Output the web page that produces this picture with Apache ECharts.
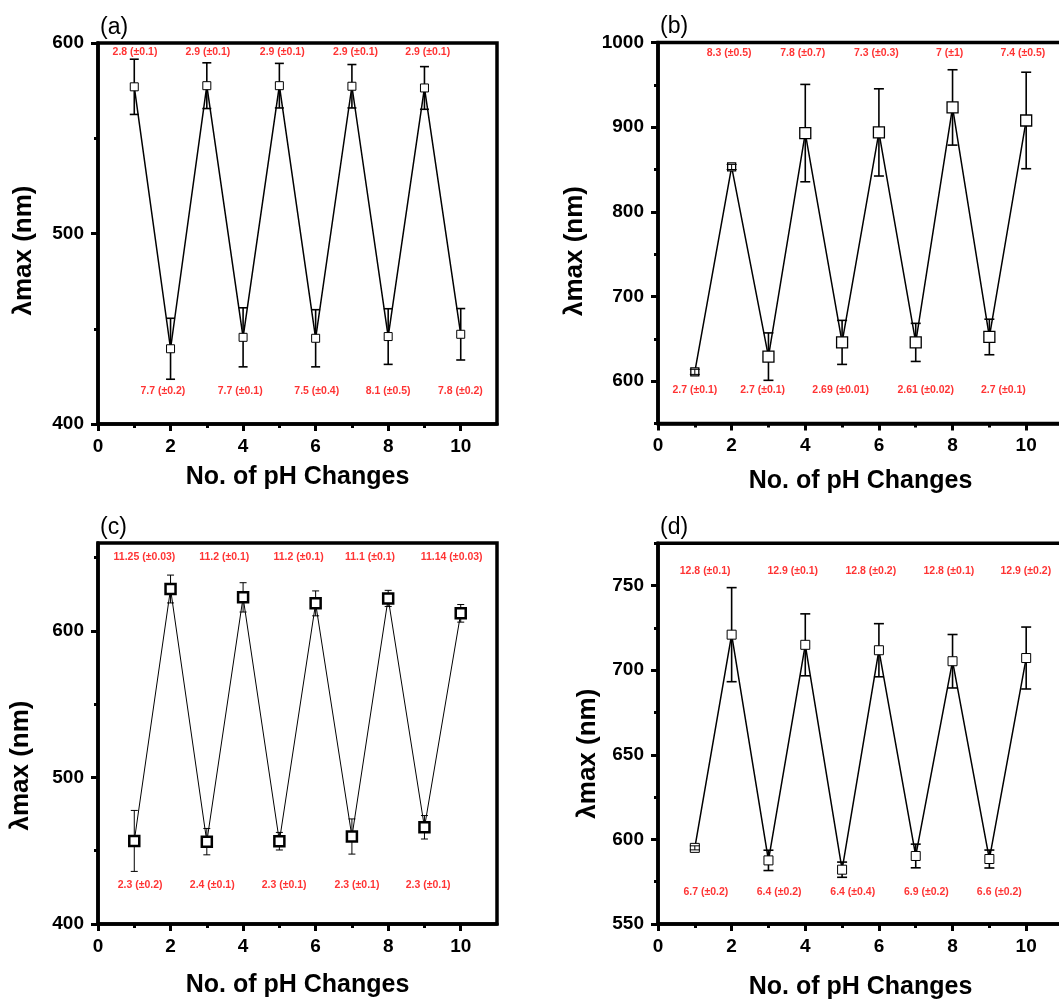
<!DOCTYPE html>
<html><head><meta charset="utf-8">
<script src="https://cdn.jsdelivr.net/npm/echarts@6/dist/echarts.min.js"></script>
<style>html,body{margin:0;padding:0;background:#fff}#c{width:1059px;height:1001px}</style>
</head><body><div id="c"></div>
<script>
// ---------- data ----------
const xValues = [1, 2, 3, 4, 5, 6, 7, 8, 9, 10];
const xTickLabels = [0, 2, 4, 6, 8, 10];

const aValues = [577, 439.5, 577.6, 445.5, 577.6, 445, 577.3, 445.9, 576.4, 447.1];
const aErrors = [14.5, 16, 12, 15.5, 11.7, 15, 11.4, 14.6, 11.2, 13.5];
const aTopLabels = ['2.8 (±0.1)', '2.9 (±0.1)', '2.9 (±0.1)', '2.9 (±0.1)', '2.9 (±0.1)'];
const aBottomLabels = ['7.7 (±0.2)', '7.7 (±0.1)', '7.5 (±0.4)', '8.1 (±0.5)', '7.8 (±0.2)'];
const aYTicks = [400, 500, 600];

const bValues = [611, 853, 629, 893, 645.8, 893.8, 645.8, 923.3, 652.2, 907.9];
const bErrors = [3, 3, 28, 57.5, 26, 51.5, 22.5, 44.5, 21, 57];
const bTopLabels = ['8.3 (±0.5)', '7.8 (±0.7)', '7.3 (±0.3)', '7 (±1)', '7.4 (±0.5)'];
const bBottomLabels = ['2.7 (±0.1)', '2.7 (±0.1)', '2.69 (±0.01)', '2.61 (±0.02)', '2.7 (±0.1)'];
const bYTicks = [600, 700, 800, 900, 1000];

const cValues = [456.7, 628.6, 456.2, 622.9, 456.5, 618.8, 459.7, 622.2, 466, 612];
const cErrors = [20.8, 9.5, 9, 10, 6, 8.5, 12, 5.5, 8, 6];
const cTopLabels = ['11.25 (±0.03)', '11.2 (±0.1)', '11.2 (±0.1)', '11.1 (±0.1)', '11.14 (±0.03)'];
const cBottomLabels = ['2.3 (±0.2)', '2.4 (±0.1)', '2.3 (±0.1)', '2.3 (±0.1)', '2.3 (±0.1)'];
const cYTicks = [400, 500, 600];

const dValues = [595, 721, 587.6, 715, 582.1, 711.8, 590.2, 705.3, 588.4, 707.2];
const dErrors = [1.2, 27.8, 6, 18.3, 4.5, 15.7, 7, 15.8, 5.3, 18.3];
const dTopLabels = ['12.8 (±0.1)', '12.9 (±0.1)', '12.8 (±0.2)', '12.8 (±0.1)', '12.9 (±0.2)'];
const dBottomLabels = ['6.7 (±0.2)', '6.4 (±0.2)', '6.4 (±0.4)', '6.9 (±0.2)', '6.6 (±0.2)'];
const dYTicks = [550, 600, 650, 700, 750];

// ---------- layout / style ----------
const FONT = 'Liberation Sans, Arial, sans-serif';
const panels = [
  { tag: '(a)', values: aValues, errors: aErrors, top: aTopLabels, bot: aBottomLabels, yTicks: aYTicks,
    yMin: 400, yMax: 600, yMinor: 50,
    grid: { left: 98, top: 43, width: 399, height: 381 },
    topX: [1.02, 3.03, 5.08, 7.1, 9.09], topY: 595.3, botX: [1.79, 3.92, 6.03, 8.0, 9.99], botY: 417.3,
    sym: 8, symSmall: 8, symBorder: 1, lineW: 1.5, errW: 1.6, cap: 4.5, nameGapX: 41, nameGapY: 61, yShift: 17 },
  { tag: '(b)', values: bValues, errors: bErrors, top: bTopLabels, bot: bBottomLabels, yTicks: bYTicks,
    yMin: 550, yMax: 1000, yMinor: 50,
    grid: { left: 658, top: 42.5, width: 405, height: 381 },
    topX: [1.93, 3.93, 5.93, 7.92, 9.91], topY: 988, botX: [1.0, 2.84, 4.96, 7.27, 9.38], botY: 589,
    sym: 11, symSmall: 8, symBorder: 1.3, lineW: 1.5, errW: 1.6, cap: 5, nameGapX: 45, nameGapY: 70, yShift: 18 },
  { tag: '(c)', values: cValues, errors: cErrors, top: cTopLabels, bot: cBottomLabels, yTicks: cYTicks,
    yMin: 400, yMax: 660, yMinor: 50,
    grid: { left: 98, top: 543, width: 399, height: 381 },
    topX: [1.28, 3.48, 5.53, 7.5, 9.75], topY: 650.5, botX: [1.16, 3.15, 5.13, 7.14, 9.1], botY: 426.5,
    sym: 10, symSmall: 10, symBorder: 2.5, lineW: 1, errW: 1, cap: 3.5, nameGapX: 49, nameGapY: 64, yShift: 32 },
  { tag: '(d)', values: dValues, errors: dErrors, top: dTopLabels, bot: dBottomLabels, yTicks: dYTicks,
    yMin: 550, yMax: 775, yMinor: 25,
    grid: { left: 658, top: 543.3, width: 405, height: 380.7 },
    topX: [1.28, 3.66, 5.78, 7.9, 9.99], topY: 758.7, botX: [1.3, 3.29, 5.29, 7.29, 9.27], botY: 568.7,
    sym: 9, symSmall: 9, symBorder: 1, lineW: 1.5, errW: 1.6, cap: 5, nameGapX: 51, nameGapY: 57, yShift: 20 }
];

function minorValues(min, max, step, majors) {
  const out = [];
  for (let v = min; v <= max + 1e-9; v += step) {
    if (!majors.some(m => Math.abs(m - v) < 1e-6)) out.push(v);
  }
  return out;
}

const grids = [], xAxes = [], yAxes = [], series = [], titles = [];
panels.forEach((p, i) => {
  grids.push(Object.assign({ show: true, borderColor: '#000', borderWidth: 3.5, backgroundColor: 'transparent',
    containLabel: false, outerBoundsMode: 'none' }, p.grid));
  titles.push({ text: p.tag, left: p.grid.left - 3, top: p.grid.top - 32,
    textStyle: { fontFamily: FONT, fontSize: 23, fontWeight: 'normal', color: '#000' } });
  const xMinor = [1, 3, 5, 7, 9];
  xAxes.push({
    gridIndex: i, type: 'value', min: 0, max: 11, position: 'bottom',
    name: 'No. of pH Changes', nameLocation: 'middle', nameGap: p.nameGapX,
    nameTextStyle: { fontFamily: FONT, fontSize: 25, fontWeight: 'bold', color: '#000' },
    axisLine: { show: true, lineStyle: { color: '#000', width: 3.5 } },
    axisTick: { show: true, inside: false, length: 7, lineStyle: { color: '#000', width: 3 }, customValues: xTickLabels },
    axisLabel: { show: true, margin: 13, customValues: xTickLabels, fontFamily: FONT, fontSize: 19, fontWeight: 'bold', color: '#000',
      formatter: v => String(v) },
    splitLine: { show: false }
  });
  xAxes.push({
    gridIndex: i, type: 'value', min: 0, max: 11, position: 'bottom',
    axisLine: { show: false },
    axisTick: { show: true, inside: false, length: 4, lineStyle: { color: '#000', width: 3 }, customValues: xMinor },
    axisLabel: { show: false }, splitLine: { show: false }
  });
  yAxes.push({
    gridIndex: i, type: 'value', min: p.yMin, max: p.yMax, position: 'left',
    name: 'λmax (nm)', nameLocation: 'middle', nameGap: p.nameGapY, nameRotate: 90,
    nameTextStyle: { fontFamily: FONT, fontSize: 26, fontWeight: 'bold', color: '#000', padding: [0, 2 * p.yShift, 0, 0] },
    axisLine: { show: true, lineStyle: { color: '#000', width: 3.5 } },
    axisTick: { show: true, inside: false, length: 7, lineStyle: { color: '#000', width: 3 }, customValues: p.yTicks },
    axisLabel: { show: true, margin: 14, customValues: p.yTicks, fontFamily: FONT, fontSize: 19, fontWeight: 'bold', color: '#000',
      formatter: v => String(v) },
    splitLine: { show: false }
  });
  yAxes.push({
    gridIndex: i, type: 'value', min: p.yMin, max: p.yMax, position: 'left',
    axisLine: { show: false },
    axisTick: { show: true, inside: false, length: 4, lineStyle: { color: '#000', width: 3 }, customValues: minorValues(p.yMin, p.yMax, p.yMinor, p.yTicks) },
    axisLabel: { show: false }, splitLine: { show: false }
  });
  const xi = 2 * i, yi = 2 * i;
  // error bars: long ones behind the markers, ones shorter than the marker drawn over it
  const errData = xValues.map((x, k) => [x, p.values[k], p.errors[k]]);
  const makeErr = (onTop) => ({
    type: 'custom', xAxisIndex: xi, yAxisIndex: yi, z: onTop ? 4 : 2, clip: false,
    data: errData, encode: { x: 0, y: 1 },
    renderItem: function (params, api) {
      const x = api.value(0), y = api.value(1), e = api.value(2);
      const t = api.coord([x, y + e]), b = api.coord([x, y - e]);
      const half = (params.dataIndex < 2 ? p.symSmall : p.sym) / 2;
      const small = Math.abs(b[1] - t[1]) / 2 < half;
      if (small !== onTop) return null;
      const st = { stroke: '#000', lineWidth: onTop ? 1 : p.errW, fill: null };
      return { type: 'group', children: [
        { type: 'line', shape: { x1: t[0], y1: t[1], x2: b[0], y2: b[1] }, style: st },
        { type: 'line', shape: { x1: t[0] - p.cap, y1: t[1], x2: t[0] + p.cap, y2: t[1] }, style: st },
        { type: 'line', shape: { x1: b[0] - p.cap, y1: b[1], x2: b[0] + p.cap, y2: b[1] }, style: st }
      ] };
    }
  });
  series.push(makeErr(false));
  // line + square markers
  series.push({
    type: 'line', xAxisIndex: xi, yAxisIndex: yi, z: 3,
    data: xValues.map((x, k) => [x, p.values[k]]),
    symbol: 'rect', symbolSize: (v, prm) => (prm.dataIndex < 2 ? p.symSmall : p.sym), showAllSymbol: true,
    lineStyle: { color: '#000', width: p.lineW },
    itemStyle: { color: '#fff', borderColor: '#000', borderWidth: p.symBorder },
    emphasis: { disabled: true }, animation: false
  });
  series.push(makeErr(true));
  // annotations
  const lbl = { show: true, position: 'inside', formatter: '{b}', color: '#ff0000', fontFamily: FONT, fontSize: 10.5, fontWeight: 'bold' };
  series.push({
    type: 'scatter', xAxisIndex: xi, yAxisIndex: yi, z: 5, symbolSize: 0, silent: true,
    label: lbl,
    data: p.top.map((t, k) => ({ name: t, value: [p.topX[k], p.topY] }))
      .concat(p.bot.map((t, k) => ({ name: t, value: [p.botX[k], p.botY] })))
  });
});

const chart = echarts.init(document.getElementById('c'), null, { renderer: 'canvas' });
chart.setOption({
  backgroundColor: '#fff', animation: false,
  title: titles, grid: grids, xAxis: xAxes, yAxis: yAxes, series: series,
  tooltip: { show: false }
});
</script>
</body></html>
